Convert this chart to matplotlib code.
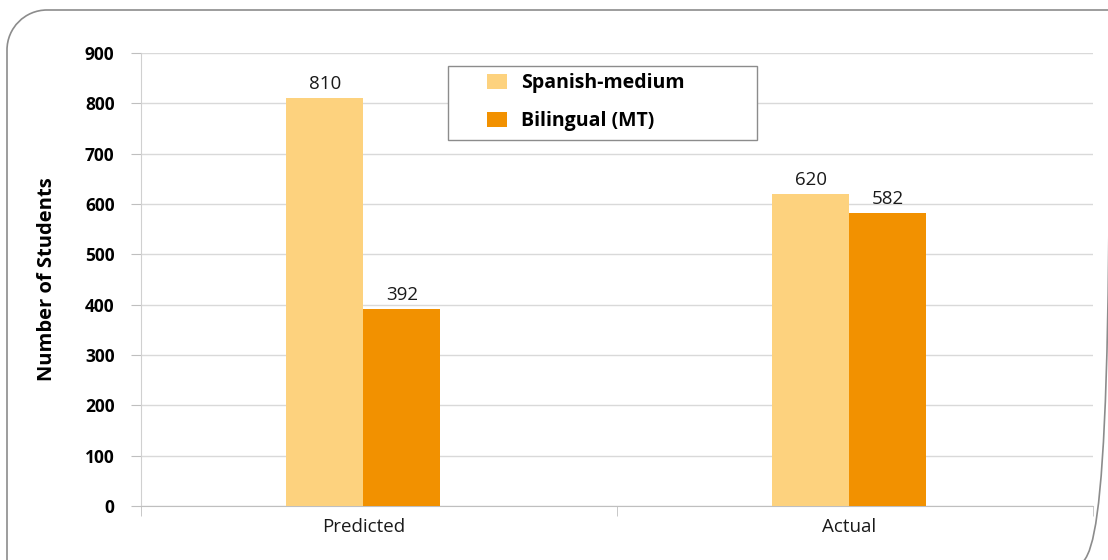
import matplotlib.pyplot as plt
from matplotlib.patches import PathPatch, Rectangle
from matplotlib.path import Path
import numpy as np

# data
categories = ['Predicted', 'Actual']
series_names = ['Spanish-medium', 'Bilingual (MT)']
spanish = [810, 620]
bilingual = [392, 582]
colors = ['#FDD27E', '#F29100']

plt.rcParams['font.family'] = ['Open Sans', 'DejaVu Sans']

W, H = 1108, 560
fig = plt.figure(figsize=(W / 100, H / 100), dpi=100)
ax = fig.add_axes([141 / W, 1 - 506 / H, 951.7 / W, 453 / H])


def border_path(x0, y0, x1, y1, r):
    # rectangle with rounded top-left and bottom-right corners (pixel coords, y down)
    k = 0.5523 * r
    verts = [(x0, y0 + r),
             (x0, y0 + r - k), (x0 + r - k, y0), (x0 + r, y0),
             (x1, y0),
             (x1, y1 - r),
             (x1, y1 - r + k), (x1 - r + k, y1), (x1 - r, y1),
             (x0, y1),
             (x0, y0 + r)]
    codes = [Path.MOVETO, Path.CURVE4, Path.CURVE4, Path.CURVE4, Path.LINETO, Path.LINETO,
             Path.CURVE4, Path.CURVE4, Path.CURVE4, Path.LINETO, Path.CLOSEPOLY]
    verts = [(vx / W, 1 - vy / H) for vx, vy in verts]
    return Path(verts, codes)


fig.patches.append(PathPatch(border_path(7, 10, 1112, 566, 40), transform=fig.transFigure,
                             fill=False, edgecolor='#8c8c8c', linewidth=1.2))

# group centres sit a little left of the category middle, as in the source chart
x = np.arange(len(categories)) + np.array([-0.033, -0.012])
w = 0.162
b1 = ax.bar(x - w / 2, spanish, w, color=colors[0], label=series_names[0], zorder=3)
b2 = ax.bar(x + w / 2, bilingual, w, color=colors[1], label=series_names[1], zorder=3)

for bars, vals in [(b1, spanish), (b2, bilingual)]:
    for r, v in zip(bars, vals):
        ax.text(r.get_x() + r.get_width() / 2, v + 10, str(v), ha='center', va='bottom',
                fontsize=13.5, color='#1a1a1a')

ax.set_xlim(-0.5, 1.5)
ax.set_ylim(0, 900)
ax.set_yticks(range(0, 901, 100))
ax.set_yticklabels([str(v) for v in range(0, 901, 100)], fontsize=12.5, fontweight='bold')
ax.set_xticks(x)
ax.set_xticklabels(categories, fontsize=13.5, color='#1a1a1a')
ax.set_xticks([-0.5, 0.5, 1.5], minor=True)
ax.tick_params(axis='x', which='major', length=0, pad=9)
ax.tick_params(axis='x', which='minor', length=7, color='#bfbfbf', direction='out')
ax.tick_params(axis='y', length=7, color='#bfbfbf', direction='out', pad=12)

ax.grid(axis='y', color='#d9d9d9', linewidth=1, zorder=0)
for s in ['top', 'right']:
    ax.spines[s].set_visible(False)
ax.spines['left'].set_color('#d0d0d0')
ax.spines['bottom'].set_color('#bfbfbf')

ax.set_ylabel('Number of Students', fontsize=14.5, fontweight='bold')
ax.yaxis.set_label_coords(-0.088, 0.5)

# legend box drawn separately so the padding can differ per side
ax.add_patch(Rectangle((448 / W, 1 - 140 / H), 309 / W, 74 / H, transform=fig.transFigure,
                       facecolor='white', edgecolor='#8c8c8c', linewidth=1,
                       zorder=5, clip_on=False))
leg = ax.legend(loc='upper left', bbox_to_anchor=(487 / W, 1 - 73 / H),
                bbox_transform=fig.transFigure, frameon=False,
                prop={'weight': 'bold', 'size': 14}, handlelength=1.05, handleheight=0.8,
                borderpad=0, labelspacing=0.95, handletextpad=0.7, borderaxespad=0)
leg.set_zorder(6)

fig.savefig('out.png', dpi=100)
